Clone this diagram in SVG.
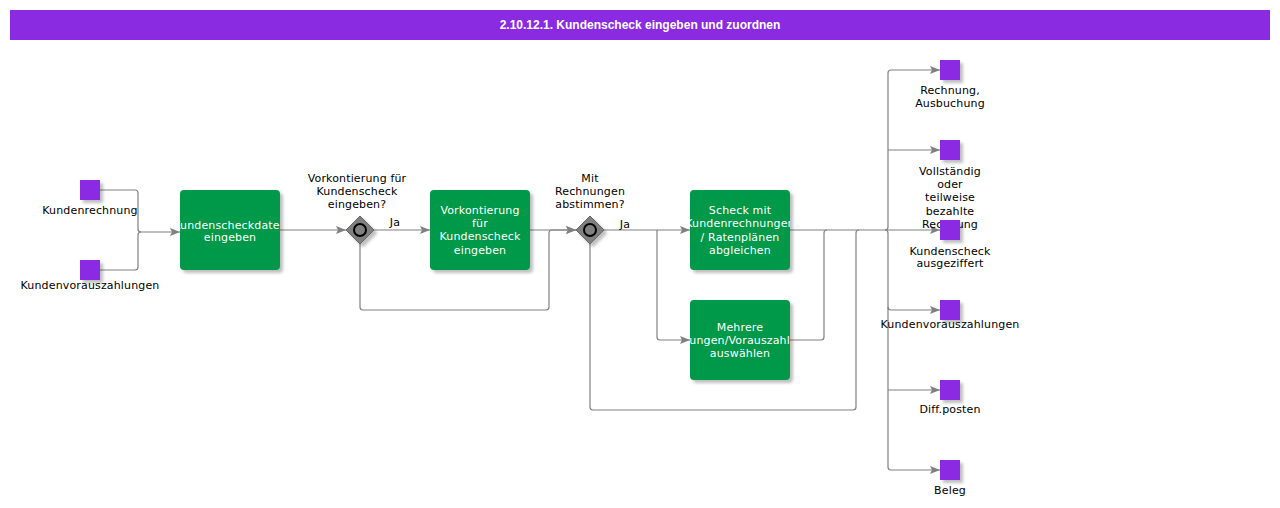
<svg xmlns="http://www.w3.org/2000/svg" width="1280" height="508" viewBox="0 0 1280 508">
<style>
.lbl{font-family:"DejaVu Sans",Verdana,sans-serif;font-size:11px;fill:#000;text-anchor:middle;letter-spacing:0.15px}
.tl{font-family:"DejaVu Sans",Verdana,sans-serif;font-size:11px;fill:#fff;text-anchor:middle;letter-spacing:0.15px}
.task{fill:#00984a;filter:url(#sh)}
.data{fill:#8a2be2;filter:url(#sh)}
.gw{fill:#808080;stroke:#666;stroke-width:1;filter:url(#sh)}
.con{fill:none;stroke:#808080;stroke-width:1.2}
</style>
<defs>
<filter id="sh" x="-20%" y="-20%" width="150%" height="150%">
<feDropShadow dx="3" dy="3" stdDeviation="1.5" flood-color="#000" flood-opacity="0.25"/>
</filter>
<marker id="ar" viewBox="0 0 10 8" refX="10" refY="4" markerWidth="10" markerHeight="8" markerUnits="userSpaceOnUse" orient="auto">
<path d="M0,0 L10,4 L0,8 L2,4 Z" fill="#808080"/>
</marker>
<clipPath id="c1"><rect x="180" y="190" width="100" height="80"/></clipPath>
<clipPath id="c3"><rect x="690" y="190" width="100" height="80"/></clipPath>
<clipPath id="c4"><rect x="690" y="300" width="100" height="80"/></clipPath>
</defs>

<g id="header">
<rect x="10" y="10" width="1260" height="30" fill="#8a2be2"/>
<text x="640" y="29" font-family="Liberation Sans,Arial,sans-serif" font-size="12" font-weight="bold" fill="#fff" text-anchor="middle">2.10.12.1. Kundenscheck eingeben und zuordnen</text>
</g>

<g id="connectors">
<path class="con" d="M100,190 H135 Q138,190 138,193 V229 Q138,232 141,232 H180" marker-end="url(#ar)"/>
<path class="con" d="M100,270 H135 Q138,270 138,267 V235 Q138,232 141,232"/>
<path class="con" d="M280,230 H346" marker-end="url(#ar)"/>
<path class="con" d="M374,230 H430" marker-end="url(#ar)"/>
<path class="con" d="M360,244 V307 Q360,310 363,310 H546 Q549,310 549,307 V233 Q549,230 552,230 H576" marker-end="url(#ar)"/>
<path class="con" d="M530,230 H576" marker-end="url(#ar)"/>
<path class="con" d="M604,230 H690" marker-end="url(#ar)"/>
<path class="con" d="M657,230 V337 Q657,340 660,340 H690" marker-end="url(#ar)"/>
<path class="con" d="M590,244 V407 Q590,410 593,410 H853 Q856,410 856,407 V233 Q856,230 859,230"/>
<path class="con" d="M790,340 H821 Q824,340 824,337 V233 Q824,230 827,230"/>
<path class="con" d="M790,230 H940" marker-end="url(#ar)"/>
<path class="con" d="M885,230 Q888,230 888,227 V73 Q888,70 891,70 H940" marker-end="url(#ar)"/>
<path class="con" d="M888,150 H940" marker-end="url(#ar)"/>
<path class="con" d="M885,230 Q888,230 888,233 V467 Q888,470 891,470 H940" marker-end="url(#ar)"/>
<path class="con" d="M888,307 Q888,310 891,310 H940" marker-end="url(#ar)"/>
<path class="con" d="M888,390 H940" marker-end="url(#ar)"/>
</g>

<g id="in1"><rect class="data" x="80" y="180" width="20" height="20"/><text class="lbl" x="90" y="214">Kundenrechnung</text></g>
<g id="in2"><rect class="data" x="80" y="260" width="20" height="20"/><text class="lbl" x="90" y="289">Kundenvorauszahlungen</text></g>

<g id="task1"><rect class="task" x="180" y="190" width="100" height="80" rx="4"/>
<g clip-path="url(#c1)"><text class="tl" x="230" y="229">Kundenscheckdaten</text><text class="tl" x="230" y="241">eingeben</text></g></g>

<g id="gw1"><path class="gw" d="M360,216 L374,230 L360,244 L346,230 Z"/><circle cx="360" cy="230" r="6" fill="#808080" stroke="#000" stroke-width="2"/>
<text class="lbl" x="357" y="182">Vorkontierung für</text><text class="lbl" x="357" y="195">Kundenscheck</text><text class="lbl" x="357" y="208">eingeben?</text>
<text class="lbl" x="395" y="226">Ja</text></g>

<g id="task2"><rect class="task" x="430" y="190" width="100" height="80" rx="4"/>
<text class="tl" x="480" y="214">Vorkontierung</text><text class="tl" x="480" y="227">für</text><text class="tl" x="480" y="240">Kundenscheck</text><text class="tl" x="480" y="254">eingeben</text></g>

<g id="gw2"><path class="gw" d="M590,216 L604,230 L590,244 L576,230 Z"/><circle cx="590" cy="230" r="6" fill="#808080" stroke="#000" stroke-width="2"/>
<text class="lbl" x="590" y="182">Mit</text><text class="lbl" x="590" y="195">Rechnungen</text><text class="lbl" x="590" y="208">abstimmen?</text>
<text class="lbl" x="625" y="228">Ja</text></g>

<g id="task3"><rect class="task" x="690" y="190" width="100" height="80" rx="4"/>
<g clip-path="url(#c3)"><text class="tl" x="740" y="214">Scheck mit</text><text class="tl" x="740" y="227">Kundenrechnungen</text><text class="tl" x="740" y="241">/ Ratenplänen</text><text class="tl" x="740" y="254">abgleichen</text></g></g>

<g id="task4"><rect class="task" x="690" y="300" width="100" height="80" rx="4"/>
<g clip-path="url(#c4)"><text class="tl" x="740" y="331">Mehrere</text><text class="tl" x="740" y="344">Rechnungen/Vorauszahlungen</text><text class="tl" x="740" y="357">auswählen</text></g></g>

<g id="out1"><rect class="data" x="940" y="60" width="20" height="20"/><text class="lbl" x="950" y="94">Rechnung,</text><text class="lbl" x="950" y="107">Ausbuchung</text></g>
<g id="out2"><rect class="data" x="940" y="140" width="20" height="20"/><text class="lbl" x="950" y="175">Vollständig</text><text class="lbl" x="950" y="188">oder</text><text class="lbl" x="950" y="201">teilweise</text><text class="lbl" x="950" y="215">bezahlte</text><text class="lbl" x="950" y="228">Rechnung</text></g>
<g id="out3"><rect class="data" x="940" y="220" width="20" height="20"/><text class="lbl" x="950" y="255">Kundenscheck</text><text class="lbl" x="950" y="267">ausgeziffert</text></g>
<g id="out4"><rect class="data" x="940" y="300" width="20" height="20"/><text class="lbl" x="950" y="328">Kundenvorauszahlungen</text></g>
<g id="out5"><rect class="data" x="940" y="380" width="20" height="20"/><text class="lbl" x="950" y="413">Diff.posten</text></g>
<g id="out6"><rect class="data" x="940" y="460" width="20" height="20"/><text class="lbl" x="950" y="494">Beleg</text></g>
</svg>
